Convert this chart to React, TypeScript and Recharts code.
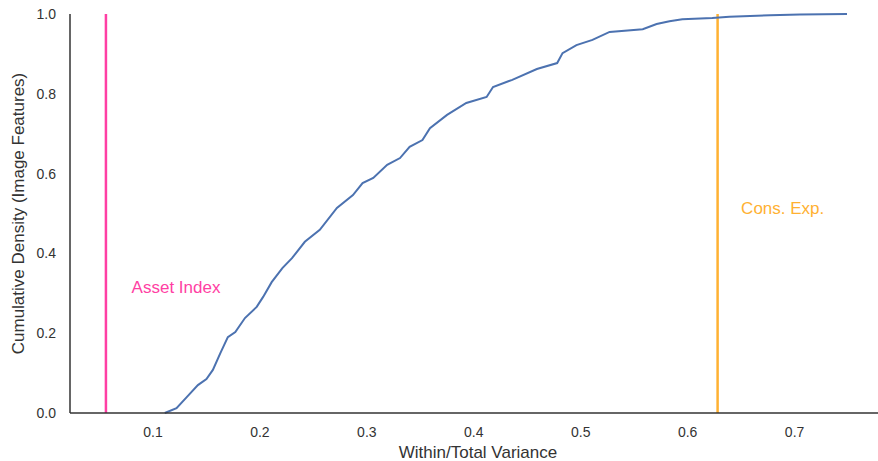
import { LineChart, Line, XAxis, YAxis, ReferenceLine, ReferenceDot } from "recharts";

// ECDF of within/total variance ratio
const ecdfX = [
  0.111, 0.122, 0.132, 0.142, 0.15, 0.156, 0.163, 0.17, 0.177, 0.186, 0.197,
  0.203, 0.211, 0.221, 0.23, 0.242, 0.256, 0.272, 0.287, 0.296, 0.306, 0.319,
  0.331, 0.34, 0.352, 0.359, 0.375, 0.393, 0.412, 0.418, 0.436, 0.459, 0.478,
  0.483, 0.496, 0.511, 0.527, 0.558, 0.571, 0.583, 0.595, 0.623, 0.639, 0.677,
  0.705, 0.749,
];
const ecdfY = [
  0.0, 0.012, 0.041, 0.07, 0.085, 0.108, 0.15, 0.19, 0.203, 0.238, 0.266,
  0.291, 0.328, 0.363, 0.388, 0.429, 0.459, 0.514, 0.546, 0.576, 0.589, 0.622,
  0.639, 0.667, 0.684, 0.714, 0.747, 0.777, 0.792, 0.817, 0.835, 0.862, 0.877,
  0.902, 0.922, 0.935, 0.955, 0.962, 0.975, 0.982, 0.987, 0.99, 0.993, 0.997,
  0.999, 1.0,
];

const xTicks = [0.1, 0.2, 0.3, 0.4, 0.5, 0.6, 0.7];
const yTicks = [0, 0.2, 0.4, 0.6, 0.8, 1.0];

const markers = [
  { name: "Asset Index", value: 0.056, textX: 0.08, textY: 0.3, color: "#ff3fa4" },
  { name: "Cons. Exp.", value: 0.628, textX: 0.65, textY: 0.5, color: "#ffb132" },
];

const FONT = '"Liberation Sans", Arial, Helvetica, sans-serif';
const TEXT = "#333";

export default function App() {
  const data = ecdfX.map((x, i) => ({ x, y: ecdfY[i] }));

  return (
    <div style={{ position: "absolute", left: 0, top: 0, background: "#fff" }}>
      <LineChart
        width={878}
        height={461}
        data={data}
        margin={{ top: 14, right: 0, left: 0, bottom: 0 }}
      >
        <XAxis
          dataKey="x"
          type="number"
          domain={[0.0224, 0.778]}
          allowDataOverflow
          ticks={xTicks}
          tickFormatter={(v) => v.toFixed(1)}
          tickLine={false}
          tickMargin={8}
          axisLine={{ stroke: "#333", strokeWidth: 1.5 }}
          tick={{ fill: TEXT, fontSize: 14, fontFamily: FONT }}
          height={48}
          label={(p: any) => {
            const vb = p.viewBox;
            return (
              <text
                x={vb.x + vb.width / 2 + 4}
                y={vb.y + 39}
                textAnchor="middle"
                dominantBaseline="central"
                fill={TEXT}
                fontSize={17}
                fontFamily={FONT}
              >
                Within/Total Variance
              </text>
            );
          }}
        />
        <YAxis
          type="number"
          domain={[0, 1]}
          ticks={yTicks}
          tickFormatter={(v) => v.toFixed(1)}
          tickLine={false}
          tickMargin={8}
          axisLine={{ stroke: "#333", strokeWidth: 1.5 }}
          tick={{ fill: TEXT, fontSize: 14, fontFamily: FONT }}
          width={70}
          label={(p: any) => {
            const vb = p.viewBox;
            const cx = vb.x + 18;
            const cy = vb.y + vb.height / 2;
            return (
              <text
                x={cx}
                y={cy}
                transform={`rotate(-90 ${cx} ${cy})`}
                textAnchor="middle"
                dominantBaseline="central"
                fill={TEXT}
                fontSize={17}
                fontFamily={FONT}
              >
                Cumulative Density (Image Features)
              </text>
            );
          }}
        />
        {markers.map((m) => (
          <ReferenceLine
            key={m.name}
            x={m.value}
            stroke={m.color}
            strokeWidth={2.5}
            ifOverflow="visible"
          />
        ))}
        {markers.map((m) => (
          <ReferenceDot
            key={m.name + "-label"}
            x={m.textX}
            y={m.textY}
            r={0}
            fill="none"
            stroke="none"
            label={(p: any) => (
              <text
                x={p.viewBox.x}
                y={p.viewBox.y}
                fill={m.color}
                fontSize={17}
                fontFamily={FONT}
              >
                {m.name}
              </text>
            )}
          />
        ))}
        <Line
          type="linear"
          dataKey="y"
          stroke="#4c72b0"
          strokeWidth={2}
          dot={false}
          isAnimationActive={false}
        />
      </LineChart>
    </div>
  );
}
